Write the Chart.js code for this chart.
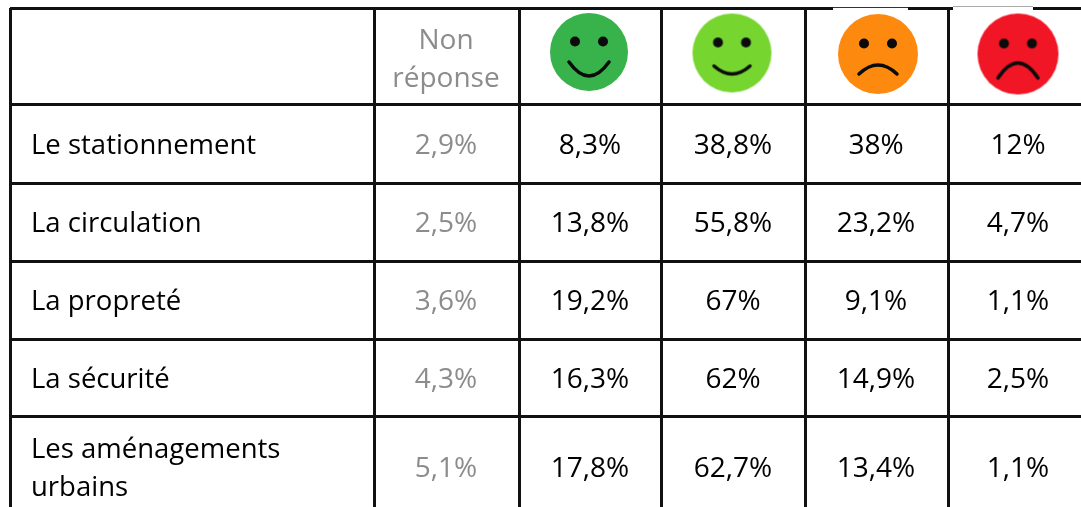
<!DOCTYPE html>
<html lang="fr">
<head>
<meta charset="utf-8">
<title>Satisfaction</title>
<script src="https://cdn.jsdelivr.net/npm/chart.js@4"></script>
<style>
  html, body { margin: 0; padding: 0; background: #fff; overflow: hidden; }
  canvas { display: block; }
</style>
</head>
<body>
<canvas id="tableChart" width="1081" height="507"></canvas>
<script>
const categories = [['Le stationnement'], ['La circulation'], ['La propreté'], ['La sécurité'], ['Les aménagements', 'urbains']];
const headerLabel = ['Non', 'réponse'];
const nonReponse = [2.9, 2.5, 3.6, 4.3, 5.1];
const tresSatisfait = [8.3, 13.8, 19.2, 16.3, 17.8];
const satisfait = [38.8, 55.8, 67, 62, 62.7];
const insatisfait = [38, 23.2, 9.1, 14.9, 13.4];
const tresInsatisfait = [12, 4.7, 1.1, 2.5, 1.1];

// table geometry, in picture units (x and y scales run 1:1 with the window)
const columnEdges = [10, 374, 519, 662, 805, 948];
const rowEdges = [8, 104, 183, 261, 339, 416];
const columnCenters = [446, 590, 733, 876, 1018];
const rowCenters = [144, 222, 300, 378, 467];

const FONT = '"Open Sans", sans-serif';
const GREY = '#8c8c8c';
const TEXT_DY = 2; // canvas middle baseline sits a bit high for this font

const columns = [nonReponse, tresSatisfait, satisfait, insatisfait, tresInsatisfait];

function makeFace(fill, r, mouthEndX, mouthEndY, mouthMidY) {
    const size = 2 * r + 4;
    const c = document.createElement('canvas');
    c.width = size;
    c.height = size;
    const g = c.getContext('2d');
    const m = size / 2;
    g.fillStyle = fill;
    g.beginPath();
    g.arc(m, m, r, 0, Math.PI * 2);
    g.fill();
    g.fillStyle = '#0b0b0b';
    [-14, 14].forEach(dx => {
        g.beginPath();
        g.arc(m + dx, m - 10.5, 5, 0, Math.PI * 2);
        g.fill();
    });
    g.strokeStyle = '#0b0b0b';
    g.lineWidth = 3.5;
    g.lineCap = 'round';
    g.beginPath();
    g.moveTo(m - mouthEndX, m + mouthEndY);
    g.quadraticCurveTo(m, m + 2 * mouthMidY - mouthEndY, m + mouthEndX, m + mouthEndY);
    g.stroke();
    return c;
}

const faces = [
    makeFace('#38b24a', 39, 20, 10, 24),
    makeFace('#77d52f', 39.5, 18, 13, 21),
    makeFace('#fd8a0f', 40, 19, 20, 11),
    makeFace('#f11625', 40.5, 20, 24, 9)
];
const faceX = [589, 732, 878, 1018];
const faceY = [52, 53, 54, 54];

function pct(v) {
    return String(v).replace('.', ',') + '%';
}

const tableText = {
    id: 'tableText',
    afterDraw(chart) {
        const { ctx, scales } = chart;
        ctx.save();
        ctx.textBaseline = 'middle';

        // the pasted face pictures cover the top rule above the last two columns
        ctx.fillStyle = '#fff';
        ctx.fillRect(833, 5, 75, 6);
        ctx.fillRect(953, 5, 80, 6);
        ctx.fillStyle = '#333';
        ctx.fillRect(833, 7, 75, 1);
        ctx.fillStyle = '#aaa';
        ctx.fillRect(953, 6, 80, 1);

        ctx.font = '27.5px ' + FONT;
        ctx.textAlign = 'left';
        ctx.fillStyle = '#000';
        categories.forEach((lines, i) => {
            const mid = scales.y.getPixelForValue(rowCenters[i]) + TEXT_DY;
            lines.forEach((line, k) => {
                ctx.fillText(line, 31, mid + (k - (lines.length - 1) / 2) * 38);
            });
        });

        ctx.font = '28px ' + FONT;
        ctx.textAlign = 'center';
        ctx.fillStyle = GREY;
        headerLabel.forEach((line, k) => {
            ctx.fillText(line, scales.x.getPixelForValue(columnCenters[0]), 39 + TEXT_DY + k * 38);
        });

        columns.forEach((values, c) => {
            const points = chart.getDatasetMeta(c).data;
            ctx.fillStyle = c === 0 ? GREY : '#000';
            values.forEach((v, r) => {
                ctx.fillText(pct(v), points[r].x, points[r].y + TEXT_DY);
            });
        });
        ctx.restore();
    }
};

const edgeTicks = edges => scale => {
    scale.ticks = edges.map(v => ({ value: v }));
};

const datasets = columns.map((values, c) => ({
    label: 'col' + c,
    data: values.map((v, r) => ({ x: columnCenters[c], y: rowCenters[r] })),
    pointRadius: 0
}));
datasets.push({
    label: 'faces',
    data: faceX.map((x, i) => ({ x: x, y: faceY[i] })),
    pointStyle: faces,
    pointRadius: 40,
    clip: false
});

new Chart(document.getElementById('tableChart'), {
    type: 'scatter',
    data: { datasets },
    plugins: [tableText],
    options: {
        responsive: false,
        animation: false,
        layout: { autoPadding: false, padding: { left: 10, top: 8, right: 0, bottom: 0 } },
        plugins: { legend: { display: false }, tooltip: { enabled: false } },
        scales: {
            x: {
                type: 'linear',
                min: 10,
                max: 1081,
                afterBuildTicks: edgeTicks(columnEdges),
                ticks: { display: false },
                border: { display: false },
                grid: { color: '#111', lineWidth: 3, drawTicks: false }
            },
            y: {
                type: 'linear',
                reverse: true,
                min: 8,
                max: 507,
                afterBuildTicks: edgeTicks(rowEdges),
                ticks: { display: false },
                border: { display: false },
                grid: { color: '#111', lineWidth: 3, drawTicks: false }
            }
        }
    }
});
</script>
</body>
</html>
